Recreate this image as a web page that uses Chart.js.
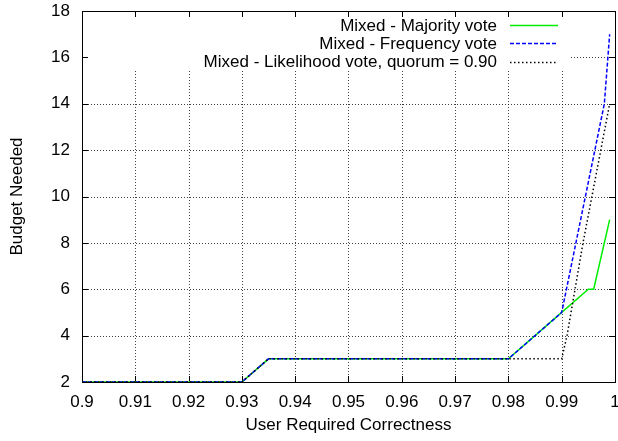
<!doctype html>
<html>
    <head>
        <title>Budget Needed</title>
        <script src="https://cdn.jsdelivr.net/npm/chart.js@4.4.1/dist/chart.umd.min.js"></script>
        <style>
            body { margin: 0; background: #fff; }
            canvas { display: block; }
        </style>
    </head>

    <body>
        <canvas id="myChart" width="618" height="441"></canvas>
        <script>
            const majorityX = [0.9, 0.93, 0.935, 0.98, 0.99, 0.995, 0.996, 0.999];
            const majorityY = [2, 2, 3, 3, 5, 6, 6, 9];
            const frequencyX = [0.9, 0.93, 0.935, 0.98, 0.99, 0.998, 0.999];
            const frequencyY = [2, 2, 3, 3, 5, 14, 17];
            const likelihoodX = [0.9, 0.93, 0.935, 0.98, 0.99, 0.991, 0.994, 0.999];
            const likelihoodY = [2, 2, 3, 3, 3, 4, 8, 14];
            const seriesLabels = ['Mixed - Majority vote', 'Mixed - Frequency vote', 'Mixed - Likelihood vote, quorum = 0.90'];
            const xTitle = 'User Required Correctness';
            const yTitle = 'Budget Needed';

            const FONT = 'Liberation Sans, Arial, Helvetica, sans-serif';
            const FONT_SIZE = 17;

            function points(xs, ys) {
                var out = [];
                for (var i = 0; i < xs.length; i++) {
                    out.push({x: xs[i], y: ys[i]});
                }
                return out;
            }

            var frame = {
                id: 'frame',
                beforeDatasetsDraw: function (chart) {
                    var ctx = chart.ctx;
                    var a = chart.chartArea;
                    var xs = chart.scales.x, ys = chart.scales.y;
                    ctx.save();
                    // dotted grid
                    ctx.strokeStyle = 'rgba(0,0,0,0.75)';
                    ctx.lineWidth = 1;
                    ctx.setLineDash([1, 2]);
                    xs.ticks.forEach(function (t) {
                        var px = Math.round(xs.getPixelForValue(t.value)) + 0.5;
                        if (px <= a.left + 1 || px >= a.right - 1) return;
                        ctx.beginPath();
                        ctx.moveTo(px, a.top);
                        ctx.lineTo(px, a.bottom);
                        ctx.stroke();
                    });
                    ys.ticks.forEach(function (t) {
                        var py = Math.round(ys.getPixelForValue(t.value)) + 0.5;
                        if (py <= a.top + 1 || py >= a.bottom - 1) return;
                        ctx.beginPath();
                        ctx.moveTo(a.left, py);
                        ctx.lineTo(a.right, py);
                        ctx.stroke();
                    });
                    ctx.setLineDash([]);
                    // key background
                    ctx.fillStyle = '#fff';
                    ctx.fillRect(a.left + 1, a.top + 1, 569 - a.left, 70 - a.top);
                    // inner ticks on all sides
                    ctx.strokeStyle = '#000';
                    ctx.beginPath();
                    xs.ticks.forEach(function (t) {
                        var px = Math.round(xs.getPixelForValue(t.value)) + 0.5;
                        ctx.moveTo(px, a.bottom);
                        ctx.lineTo(px, a.bottom - 6);
                        ctx.moveTo(px, a.top);
                        ctx.lineTo(px, a.top + 6);
                    });
                    ys.ticks.forEach(function (t) {
                        var py = Math.round(ys.getPixelForValue(t.value)) + 0.5;
                        ctx.moveTo(a.left, py);
                        ctx.lineTo(a.left + 6, py);
                        ctx.moveTo(a.right, py);
                        ctx.lineTo(a.right - 6, py);
                    });
                    ctx.stroke();
                    ctx.strokeRect(Math.round(a.left) + 0.5, Math.round(a.top) + 0.5,
                        Math.round(a.right - a.left), Math.round(a.bottom - a.top));
                    ctx.restore();
                },
                afterDraw: function (chart) {
                    var ctx = chart.ctx;
                    ctx.save();
                    ctx.font = FONT_SIZE + 'px ' + FONT;
                    ctx.textAlign = 'right';
                    ctx.textBaseline = 'middle';
                    chart.data.datasets.forEach(function (ds, i) {
                        var y = 25 + i * 18.4;
                        ctx.fillStyle = '#000';
                        ctx.fillText(ds.label, 497, y + 1);
                        ctx.strokeStyle = ds.borderColor;
                        ctx.lineWidth = ds.borderWidth;
                        ctx.setLineDash(ds.borderDash || []);
                        ctx.beginPath();
                        ctx.moveTo(510, Math.round(y) + 0.5);
                        ctx.lineTo(558, Math.round(y) + 0.5);
                        ctx.stroke();
                    });
                    ctx.restore();
                }
            };

            var ctx = document.getElementById('myChart').getContext('2d');
            var myChart = new Chart(ctx, {
                type: 'line',
                data: {
                    datasets: [
                        {
                            label: seriesLabels[0],
                            data: points(majorityX, majorityY),
                            borderColor: '#00ee00',
                            borderWidth: 1.5,
                            order: 2
                        },
                        {
                            label: seriesLabels[1],
                            data: points(frequencyX, frequencyY),
                            borderColor: '#0000ff',
                            borderWidth: 1.5,
                            borderDash: [4, 2],
                            order: 1
                        },
                        {
                            label: seriesLabels[2],
                            data: points(likelihoodX, likelihoodY),
                            borderColor: '#000000',
                            borderWidth: 1.5,
                            borderDash: [1.5, 2.5],
                            order: 0
                        }
                    ]
                },
                options: {
                    responsive: false,
                    animation: false,
                    devicePixelRatio: 1,
                    layout: { padding: { top: 11, right: 3, left: 0, bottom: 0 } },
                    elements: {
                        point: { radius: 0 },
                        line: { tension: 0, fill: false }
                    },
                    plugins: {
                        legend: { display: false },
                        tooltip: { enabled: false }
                    },
                    scales: {
                        x: {
                            type: 'linear',
                            min: 0.9,
                            max: 1,
                            grid: { display: false, drawTicks: false },
                            border: { display: false },
                            ticks: {
                                stepSize: 0.01,
                                padding: 10,
                                color: '#000',
                                maxRotation: 0,
                                autoSkip: false,
                                font: { family: FONT, size: FONT_SIZE },
                                callback: function (v) { return String(+v.toFixed(2)); }
                            },
                            title: {
                                display: true,
                                text: xTitle,
                                color: '#000',
                                padding: { top: 5, bottom: 5 },
                                font: { family: FONT, size: FONT_SIZE }
                            },
                            afterFit: function (s) {
                                s.height = 59;
                                s.paddingLeft = 0;
                                s.paddingRight = 0;
                            }
                        },
                        y: {
                            min: 2,
                            max: 18,
                            grid: { display: false, drawTicks: false },
                            border: { display: false },
                            ticks: {
                                stepSize: 2,
                                padding: 12,
                                color: '#000',
                                font: { family: FONT, size: FONT_SIZE }
                            },
                            title: {
                                display: true,
                                text: yTitle,
                                color: '#000',
                                padding: { top: 7, bottom: 7 },
                                font: { family: FONT, size: FONT_SIZE }
                            },
                            afterFit: function (s) {
                                s.width = 82;
                                s.paddingTop = 0;
                                s.paddingBottom = 0;
                            }
                        }
                    }
                },
                plugins: [frame]
            });
        </script>
    </body>

</html>
